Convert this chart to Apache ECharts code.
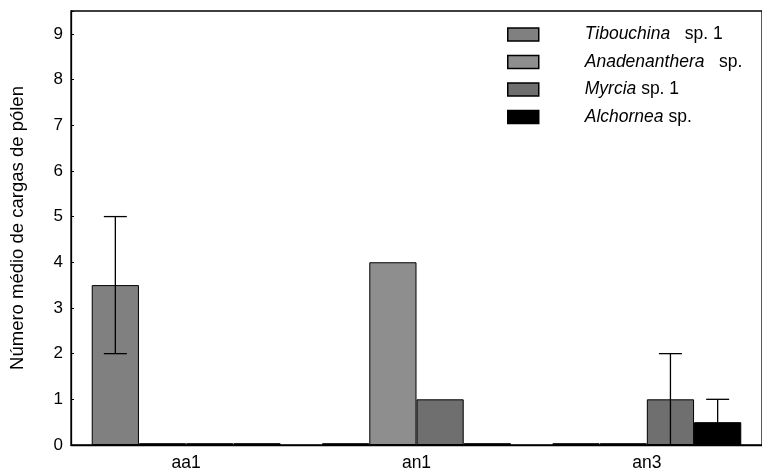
<!DOCTYPE html>
<html>
<head>
<meta charset="utf-8">
<script src="https://cdn.jsdelivr.net/npm/echarts@6/dist/echarts.min.js"></script>
<style>html,body{margin:0;padding:0;background:#fff}#c{width:762px;height:472px}</style>
</head>
<body>
<div id="c"></div>
<script>
var categories = ['aa1', 'an1', 'an3'];
var tibouchina = [3.5, 0.04, 0.04];
var anadenanthera = [0.04, 4, 0.04];
var myrcia = [0.04, 1, 1];
var alchornea = [0.04, 0.04, 0.5];
// error bars: [category index, series index, low, high]
var errorBars = [
  [0, 0, 2, 5],
  [2, 2, 0, 2],
  [2, 3, 0, 1]
];
var yTicks = [0, 1, 2, 3, 4, 5, 6, 7, 8, 9];

var seriesNames = ['Tibouchina', 'Anadenanthera', 'Myrcia', 'Alchornea'];
var seriesSuffix = ['   sp. 1', '   sp.', ' sp. 1', ' sp.'];
var colors = ['#808080', '#8e8e8e', '#6f6f6f', '#000000'];
var seriesData = [tibouchina, anadenanthera, myrcia, alchornea];
var gapRatio = 0.18;

var chart = echarts.init(document.getElementById('c'), null, {renderer: 'canvas'});
var FONT = 'Liberation Sans, Arial, sans-serif';

var series = seriesData.map(function (d, i) {
  return {
    name: seriesNames[i],
    type: 'bar',
    data: d,
    barGap: '0%',
    barCategoryGap: (gapRatio * 100) + '%',
    itemStyle: {color: colors[i], borderColor: '#000', borderWidth: 1},
    emphasis: {disabled: true},
    z: 2
  };
});

series.push({
  type: 'custom',
  name: 'err',
  data: errorBars,
  z: 5,
  encode: {x: 0, y: [2, 3]},
  renderItem: function (params, api) {
    var ci = api.value(0), si = api.value(1);
    var lo = api.coord([ci, api.value(2)]);
    var hi = api.coord([ci, api.value(3)]);
    var band = api.size([1, 0])[0];
    var bw = band * (1 - gapRatio) / 4;
    var x = lo[0] - band * (1 - gapRatio) / 2 + bw * (si + 0.5);
    var cap = 11.5;
    var st = {stroke: '#000', lineWidth: 1.3};
    return {
      type: 'group',
      children: [
        {type: 'line', shape: {x1: x, y1: lo[1], x2: x, y2: hi[1]}, style: st},
        {type: 'line', shape: {x1: x - cap, y1: hi[1], x2: x + cap, y2: hi[1]}, style: st},
        {type: 'line', shape: {x1: x - cap, y1: lo[1], x2: x + cap, y2: lo[1]}, style: st}
      ]
    };
  }
});

var LF = 17.5;
var rich = {
  s: {width: 41, fontSize: LF, lineHeight: 14, fontFamily: FONT},
  i: {fontStyle: 'italic', fontSize: LF, lineHeight: 14, fontFamily: FONT, color: '#000'},
  n: {fontSize: LF, lineHeight: 14, fontFamily: FONT, color: '#000'}
};

chart.setOption({
  animation: false,
  backgroundColor: '#fff',
  grid: {left: 67, top: 11, width: 702, height: 434.7, show: true, borderColor: '#000', borderWidth: 1.3, containLabel: false},
  legend: {
    orient: 'vertical',
    left: 507,
    top: 25.5,
    padding: 0,
    icon: 'rect',
    itemWidth: 31,
    itemHeight: 13,
    itemGap: 9.5,
    data: seriesNames,
    selectedMode: false,
    itemStyle: {borderColor: '#000', borderWidth: 1.5},
    formatter: function (name) {
      var i = seriesNames.indexOf(name);
      return '{s|}{i|' + name + '}{n|' + seriesSuffix[i] + '}';
    },
    textStyle: {rich: rich, fontSize: LF, lineHeight: 14}
  },
  xAxis: {
    type: 'category',
    data: categories,
    axisLine: {lineStyle: {color: '#000', width: 1.3}},
    axisTick: {inside: true, length: 4, lineStyle: {color: '#000'}},
    axisLabel: {color: '#000', fontSize: 17.5, fontFamily: FONT, margin: 9}
  },
  yAxis: {
    type: 'value',
    min: 0,
    max: 9.5,
    interval: 1,
    name: 'Número médio de cargas de pólen',
    nameLocation: 'middle',
    nameGap: 44,
    nameTextStyle: {color: '#000', fontSize: 18.5, fontFamily: FONT},
    splitLine: {show: false},
    axisLine: {show: true, lineStyle: {color: '#000', width: 1.3}},
    axisTick: {show: true, inside: true, length: 3, lineStyle: {color: '#000'}},
    axisLabel: {
      color: '#000', fontSize: 17, fontFamily: FONT, margin: 8,
      formatter: function (v) { return yTicks.indexOf(v) >= 0 ? String(v) : ''; }
    }
  },
  series: series
});
</script>
</body>
</html>
